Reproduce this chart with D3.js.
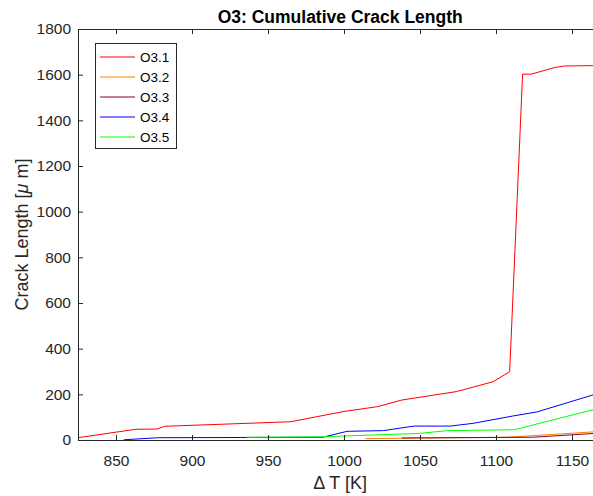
<!DOCTYPE html>
<html><head><meta charset="utf-8">
<script src="https://cdn.jsdelivr.net/npm/d3@7"></script>
<style>body{margin:0;background:#fff}svg{display:block;font-family:"Liberation Sans",Arial,sans-serif}</style>
</head><body>
<svg id="c" width="593" height="496"></svg>
<script>
const seriesNames = ["O3.1","O3.2","O3.3","O3.4","O3.5"];
const seriesColors = ["#ff0000","#ff8000","#80002a","#0000ff","#00ff00"];
const o31 = [[825,10],[863,47],[877,48],[882,60],[965,80],[1000,125],[1022,146],[1038,175],[1074,212],[1098,255],[1109,299],[1117.5,1602],[1123,1602],[1139,1632],[1145,1638],[1170,1640]];
const o32 = [[1014,6],[1107,12],[1170,38]];
const o33 = [[1038,9],[1124,12],[1170,31]];
const o34 = [[855,1],[878,10],[986,12],[1002,38],[1026,41],[1046,61],[1070,61],[1085,73],[1111,105],[1127,123],[1170,210]];
const o35 = [[936,12],[985,14],[1050,29],[1068,41],[1112,45],[1170,143]];
const xTicks = [850,900,950,1000,1050,1100,1150];
const yTicks = [0,200,400,600,800,1000,1200,1400,1600,1800];
const allSeries = [o31,o32,o33,o34,o35];

const svg = d3.select("#c");
const L=78, R=602.4, T=29, B=440;
const x = d3.scaleLinear().domain([825,1170]).range([L,R]);
const y = d3.scaleLinear().domain([0,1800]).range([B,T]);
const axisCol = "#262626";
const cx = (L+R)/2;

svg.append("clipPath").attr("id","pc").append("rect").attr("x",L).attr("y",T).attr("width",R-L).attr("height",B-T);

const gl = svg.append("g").attr("clip-path","url(#pc)");
const line = d3.line().x(d=>x(d[0])).y(d=>y(d[1]));
allSeries.forEach((s,i)=>{
  gl.append("path").datum(s).attr("d",line).attr("fill","none").attr("stroke",seriesColors[i]).attr("stroke-width",1);
});

// axes
const fmt = d3.format("d");
const gx = svg.append("g").attr("transform",`translate(0,${B})`).call(d3.axisBottom(x).tickValues(xTicks).tickSize(-5).tickFormat(fmt));
gx.selectAll("text").attr("y",26).attr("dy",0);
const gxt = svg.append("g").attr("transform",`translate(0,${T})`).call(d3.axisTop(x).tickValues(xTicks).tickSize(-5).tickFormat(""));
const gy = svg.append("g").attr("transform",`translate(${L},0)`).call(d3.axisLeft(y).tickValues(yTicks).tickSize(-5).tickFormat(fmt));
gy.selectAll("text").attr("x",-7);
const gyr = svg.append("g").attr("transform",`translate(${R},0)`).call(d3.axisRight(y).tickValues(yTicks).tickSize(-5).tickFormat(""));
[gx,gxt,gy,gyr].forEach(g=>{
  g.selectAll("path").attr("stroke",axisCol);
  g.selectAll("line").attr("stroke",axisCol);
  g.selectAll("text").attr("fill",axisCol).style("font-size","15.5px").style("font-family","Liberation Sans, Arial, sans-serif");
});

// title
svg.append("text").attr("x",cx).attr("y",22.5).attr("text-anchor","middle")
  .style("font-size","17.5px").style("font-weight","bold").attr("fill","#000").text("O3: Cumulative Crack Length");
// x label
svg.append("text").attr("x",cx).attr("y",489).attr("text-anchor","middle")
  .style("font-size","18px").attr("fill",axisCol).text("Δ T [K]");
// y label
const ylab = svg.append("text").attr("transform",`translate(28,${(T+B)/2}) rotate(-90)`).attr("text-anchor","middle")
  .style("font-size","18px").attr("fill",axisCol);
ylab.append("tspan").text("Crack Length [");
ylab.append("tspan").style("font-style","italic").text("μ");
ylab.append("tspan").text(" m]");

// legend
const lg = svg.append("g");
lg.append("rect").attr("x",95.5).attr("y",43.5).attr("width",81).attr("height",105).attr("fill","#fff").attr("stroke",axisCol).attr("stroke-width",1);
seriesNames.forEach((n,i)=>{
  const yy = 57 + i*20;
  lg.append("line").attr("x1",100).attr("x2",135).attr("y1",yy).attr("y2",yy).attr("stroke",seriesColors[i]).attr("stroke-width",1);
  lg.append("text").attr("x",140).attr("y",yy+5).style("font-size","13.5px").attr("fill","#000").text(n);
});
</script>
</body></html>
